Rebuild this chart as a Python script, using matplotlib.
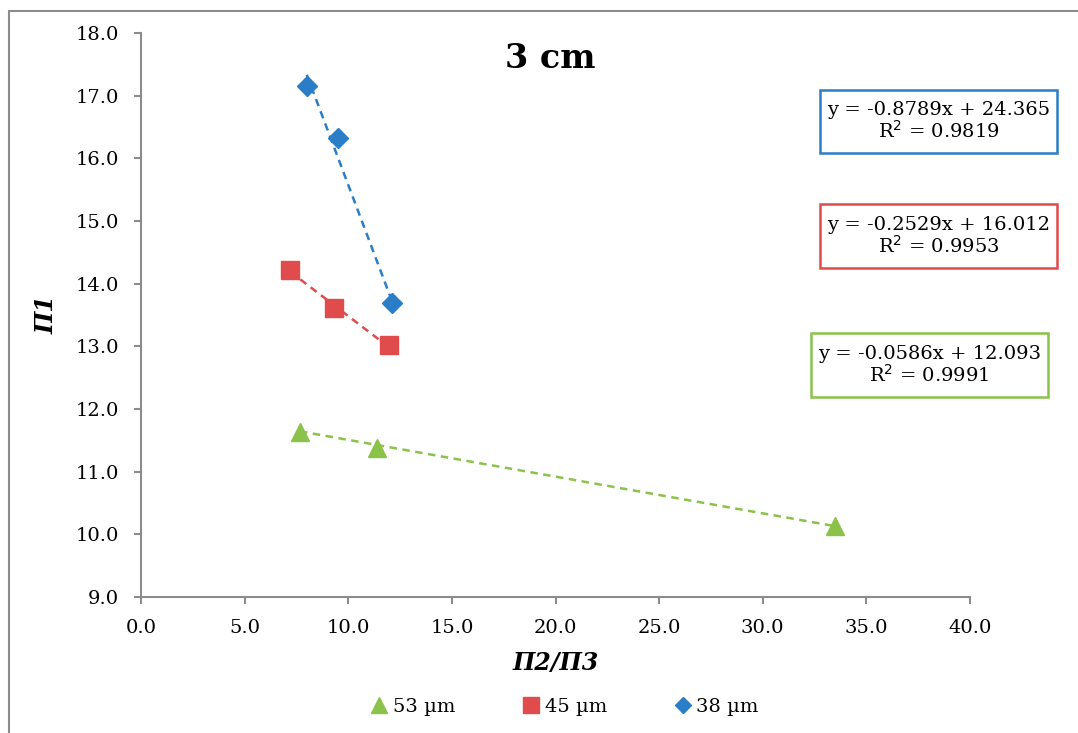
import matplotlib
matplotlib.use("Agg")
import matplotlib.pyplot as plt
import numpy as np
from matplotlib.patches import Rectangle

plt.rcParams['font.family'] = ['DejaVu Serif']

# Data
series_names = ["53 µm", "45 µm", "38 µm"]
x_53 = [7.67, 11.39, 33.5]
y_53 = [11.64, 11.38, 10.13]
x_45 = [7.19, 9.31, 11.97]
y_45 = [14.22, 13.61, 13.02]
x_38 = [8.0, 9.5, 12.1]
y_38 = [17.15, 16.33, 13.69]
slopes = [-0.0586, -0.2529, -0.8789]
intercepts = [12.093, 16.012, 24.365]
r2_values = ["0.9991", "0.9953", "0.9819"]
eq_labels = ["y = -0.0586x + 12.093", "y = -0.2529x + 16.012", "y = -0.8789x + 24.365"]
x_ticks = [0, 5, 10, 15, 20, 25, 30, 35, 40]
y_ticks = [9, 10, 11, 12, 13, 14, 15, 16, 17, 18]

colors = ["#8BC24A", "#E04B4B", "#2A7EC8"]
markers = ["^", "s", "D"]
msizes = [13, 13, 10]

fig = plt.figure(figsize=(10.78, 7.33), dpi=100)
ax = fig.add_axes([141/1078, 1-597/733, (970-141)/1078, (597-33)/733])

xs = [x_53, x_45, x_38]
ys = [y_53, y_45, y_38]
handles = []
for i in range(3):
    xd = np.array(xs[i]); yd = np.array(ys[i])
    xl = np.array([xd.min(), xd.max()])
    ax.plot(xl, slopes[i]*xl + intercepts[i], ls=(0, (3, 2.2)), color=colors[i], lw=1.8, zorder=2)
    h, = ax.plot(xd, yd, ls='none', marker=markers[i], ms=msizes[i], color=colors[i],
                 markeredgecolor=colors[i], zorder=3, label=series_names[i])
    handles.append(h)

ax.set_xlim(0, 40)
ax.set_ylim(9, 18)
ax.set_xticks(x_ticks)
ax.set_yticks(y_ticks)
ax.set_xticklabels([f"{v:.1f}" for v in x_ticks], fontsize=14)
ax.set_yticklabels([f"{v:.1f}" for v in y_ticks], fontsize=14)
for s in ['top', 'right']:
    ax.spines[s].set_visible(False)
for s in ['left', 'bottom']:
    ax.spines[s].set_color('#8c8c8c')
    ax.spines[s].set_linewidth(1.5)
ax.tick_params(direction='out', length=5, width=1.5, color='#8c8c8c', pad=11)

ax.set_xlabel("П2/П3", fontsize=17, fontweight='bold', style='italic', labelpad=10)
ax.set_ylabel("П1", fontsize=17, fontweight='bold', style='italic', labelpad=12)

fig.text(550/1078, 1-58/733, "3 cm", ha='center', va='center', fontsize=24, fontweight='bold')

# Equation boxes
boxes = [(811, 333, 1048, 397), (820, 204, 1057, 268), (820, 90, 1057, 153)]
for i in range(3):
    x0, y0, x1, y1 = boxes[i]
    fig.patches.append(Rectangle((x0/1078, 1-y1/733), (x1-x0)/1078, (y1-y0)/733,
                                 transform=fig.transFigure, fill=True, facecolor='white',
                                 edgecolor=colors[i], lw=1.8))
    fig.text((x0+x1)/2/1078, 1-(y0+y1)/2/733,
             eq_labels[i] + "\n" + r"R$^2$ = " + r2_values[i],
             ha='center', va='center', fontsize=14, linespacing=1.05, multialignment='center')

# Outer border
fig.patches.append(Rectangle((9/1078, -0.1), 1.2, 1-11/733+0.1, transform=fig.transFigure,
                             fill=False, edgecolor='#8c8c8c', lw=1.5))

fig.legend(handles=handles, labels=series_names, loc='center', bbox_to_anchor=(565/1078, 1-707/733),
           ncol=3, frameon=False, fontsize=14, handlelength=0.8, handletextpad=0.3,
           columnspacing=3.5, markerscale=0.85)

fig.savefig("out.png", dpi=100)
